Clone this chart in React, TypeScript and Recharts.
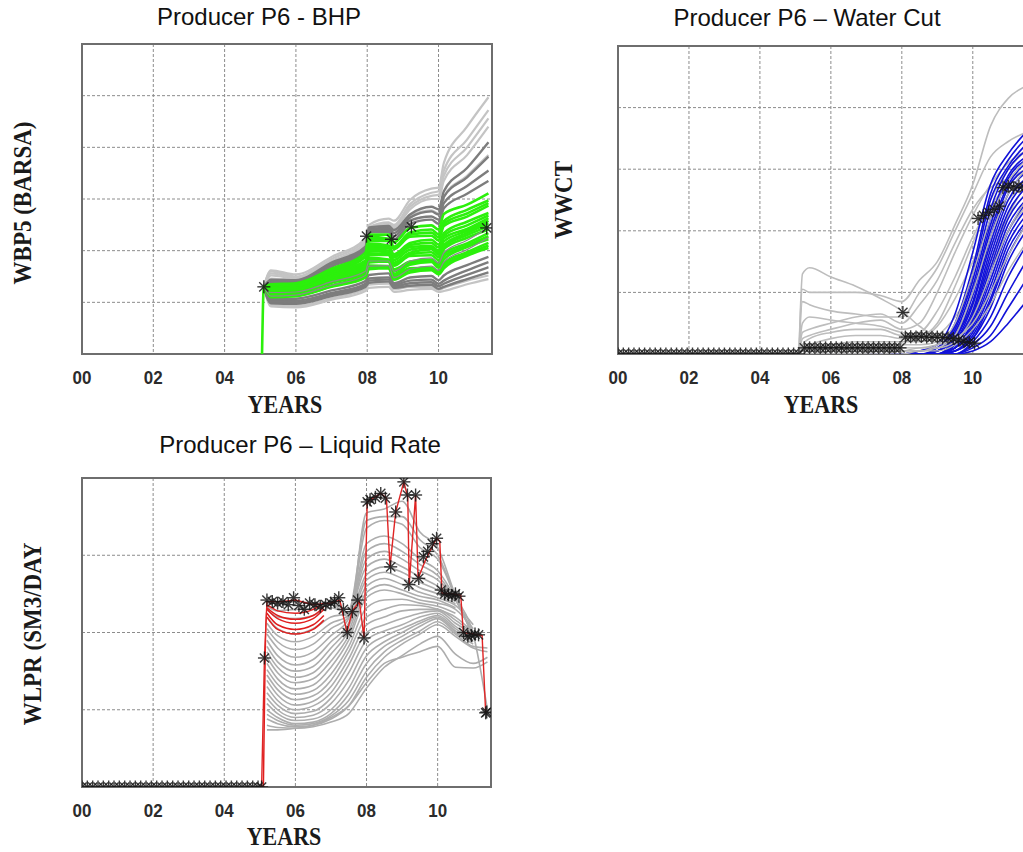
import React from 'react';
import {
    ComposedChart,
    Line,
    Scatter,
    XAxis,
    YAxis,
    CartesianGrid,
    ReferenceArea,
} from 'recharts';

// ---- shared axis data ----
const YEAR_TICKS = [0, 2, 4, 6, 8, 10];
const YEAR_LABELS = ['00', '02', '04', '06', '08', '10'];

// ---- Producer P6 - BHP ----
const BHP_YEARS = [5.05, 5.1, 5.3, 6, 7, 7.95, 8.05, 8.6, 8.75, 9.2, 9.8, 10, 10.15, 10.8, 11.4];
const BHP_LIGHT: (number | null)[][] = [
    [null, 1.3, 0.92, 0.9, 1.05, 1.22, 1.28, 1.3, 1.2, 1.24, 1.26, 1.2, 1.22, 1.35, 1.45],
    [null, 1.3, 0.95, 0.93, 1.08, 1.26, 1.34, 1.36, 1.25, 1.3, 1.3, 1.24, 1.28, 1.42, 1.52],
    [null, 1.3, 1.46, 1.44, 1.74, 2.06, 2.38, 2.44, 2.35, 2.66, 2.78, 2.72, 3.05, 3.45, 3.85],
    [null, 1.3, 1.52, 1.46, 1.78, 2.12, 2.42, 2.5, 2.44, 2.8, 3.0, 3.0, 3.35, 3.85, 4.4],
    [null, 1.3, 1.56, 1.48, 1.8, 2.16, 2.44, 2.52, 2.47, 2.85, 3.06, 3.08, 3.45, 4.0, 4.56],
    [null, 1.3, 1.6, 1.5, 1.84, 2.2, 2.46, 2.55, 2.5, 2.9, 3.12, 3.15, 3.55, 4.15, 4.72],
    [null, 1.3, 1.62, 1.54, 1.88, 2.24, 2.5, 2.62, 2.58, 2.98, 3.2, 3.22, 3.7, 4.4, 4.97],
];
const BHP_DARK: (number | null)[][] = [
    [null, 1.3, 0.98, 0.97, 1.12, 1.3, 1.38, 1.4, 1.28, 1.32, 1.34, 1.26, 1.3, 1.45, 1.58],
    [null, 1.3, 1.0, 1.0, 1.15, 1.33, 1.42, 1.44, 1.31, 1.37, 1.39, 1.31, 1.36, 1.53, 1.68],
    [null, 1.3, 1.02, 1.03, 1.18, 1.36, 1.46, 1.48, 1.34, 1.42, 1.44, 1.36, 1.42, 1.62, 1.78],
    [null, 1.3, 1.06, 1.07, 1.23, 1.41, 1.53, 1.56, 1.37, 1.48, 1.51, 1.43, 1.52, 1.72, 1.88],
    [null, 1.3, 1.38, 1.38, 1.69, 1.99, 2.36, 2.36, 2.22, 2.52, 2.6, 2.52, 2.82, 3.1, 3.35],
    [null, 1.3, 1.4, 1.4, 1.72, 2.02, 2.4, 2.4, 2.28, 2.58, 2.66, 2.6, 2.92, 3.25, 3.55],
    [null, 1.3, 1.42, 1.42, 1.75, 2.05, 2.42, 2.44, 2.34, 2.64, 2.76, 2.7, 3.04, 3.42, 3.82],
    [null, 1.3, 1.44, 1.43, 1.77, 2.08, 2.45, 2.48, 2.4, 2.7, 2.85, 2.8, 3.15, 3.6, 4.1],
];
const BHP_GREEN: (number | null)[][] = [
    [0, 1.3, 1.1, 1.12, 1.3, 1.48, 1.64, 1.66, 1.44, 1.58, 1.62, 1.54, 1.66, 1.9, 2.05],
    [null, 1.3, 1.12, 1.13, 1.31, 1.5, 1.67, 1.68, 1.48, 1.62, 1.64, 1.57, 1.7, 1.93, 2.1],
    [null, 1.3, 1.14, 1.15, 1.33, 1.53, 1.71, 1.7, 1.52, 1.66, 1.67, 1.6, 1.75, 1.97, 2.15],
    [null, 1.3, 1.16, 1.19, 1.38, 1.56, 1.77, 1.79, 1.55, 1.73, 1.78, 1.67, 1.83, 2.07, 2.22],
    [null, 1.3, 1.18, 1.18, 1.39, 1.6, 1.82, 1.81, 1.6, 1.76, 1.8, 1.72, 1.89, 2.1, 2.28],
    [null, 1.3, 1.2, 1.2, 1.41, 1.63, 1.86, 1.83, 1.64, 1.79, 1.83, 1.76, 1.94, 2.14, 2.34],
    [null, 1.3, 1.21, 1.24, 1.44, 1.66, 1.91, 1.92, 1.71, 1.9, 1.91, 1.82, 2.03, 2.25, 2.41],
    [null, 1.3, 1.23, 1.23, 1.47, 1.69, 1.95, 1.94, 1.74, 1.93, 1.97, 1.88, 2.07, 2.3, 2.47],
    [null, 1.3, 1.25, 1.25, 1.5, 1.71, 2.0, 1.96, 1.77, 1.96, 2.03, 1.93, 2.11, 2.34, 2.53],
    [null, 1.3, 1.28, 1.26, 1.48, 1.74, 2.02, 2.0, 1.82, 2.02, 2.06, 1.96, 2.18, 2.38, 2.58],
    [null, 1.3, 1.26, 1.29, 1.51, 1.78, 2.05, 2.05, 1.87, 2.07, 2.09, 2.0, 2.24, 2.42, 2.63],
    [null, 1.3, 1.28, 1.28, 1.54, 1.79, 2.1, 2.07, 1.9, 2.11, 2.15, 2.06, 2.29, 2.49, 2.68],
    [null, 1.3, 1.3, 1.3, 1.57, 1.81, 2.14, 2.1, 1.93, 2.15, 2.21, 2.12, 2.34, 2.56, 2.73],
    [null, 1.3, 1.31, 1.33, 1.58, 1.88, 2.19, 2.19, 2.03, 2.27, 2.29, 2.2, 2.48, 2.66, 2.87],
    [null, 1.3, 1.33, 1.32, 1.61, 1.89, 2.23, 2.21, 2.05, 2.31, 2.35, 2.26, 2.52, 2.72, 2.92],
    [null, 1.3, 1.34, 1.33, 1.63, 1.9, 2.27, 2.23, 2.08, 2.35, 2.41, 2.32, 2.57, 2.79, 2.97],
    [null, 1.3, 1.35, 1.37, 1.65, 1.96, 2.31, 2.31, 2.16, 2.44, 2.49, 2.41, 2.71, 2.89, 3.11],
];
const BHP_DARK_MID: (number | null)[][] = [
    [null, 1.3, 1.19, 1.2, 1.4, 1.6, 1.8, 1.8, 1.6, 1.8, 1.86, 1.76, 1.96, 2.2, 2.45],
    [null, 1.3, 1.12, 1.14, 1.33, 1.52, 1.7, 1.71, 1.48, 1.64, 1.7, 1.62, 1.78, 2.02, 2.25],
];
const BHP_OBS_YEARS = [5.1, 7.98, 8.68, 9.24, 11.35];
const BHP_OBS = [1.3, 2.28, 2.22, 2.46, 2.44];

// ---- Producer P6 – Water Cut ----
const WCT_YEARS = [5.1, 5.2, 5.4, 6, 6.7, 7.4, 8, 8.5, 9, 9.5, 10, 10.5, 11, 11.5];
const WCT_GRAY: (number | null)[][] = [
    [0, 0.26, 0.28, 0.25, 0.22, 0.18, 0.14, 0.09, 0.06, 0.08, 0.15, 0.3, 0.45, 0.55],
    [0, 0.21, 0.2, 0.2, 0.2, 0.19, 0.17, 0.24, 0.3, 0.42, 0.55, 0.74, 0.83, 0.87],
    [0, 0.17, 0.16, 0.14, 0.13, 0.12, 0.12, 0.2, 0.28, 0.4, 0.52, 0.64, 0.69, 0.72],
    [0, 0.1, 0.12, 0.11, 0.1, 0.09, 0.07, 0.06, 0.1, 0.22, 0.36, 0.5, 0.6, 0.66],
    [0, 0.07, 0.08, 0.1, 0.12, 0.13, 0.1, 0.16, 0.24, 0.36, 0.47, 0.54, 0.57, 0.6],
    [0, 0.05, 0.06, 0.08, 0.1, 0.11, 0.08, 0.1, 0.2, 0.33, 0.45, 0.55, 0.62, 0.66],
    [0, 0.03, 0.05, 0.07, 0.08, 0.08, 0.06, 0.07, 0.14, 0.25, 0.38, 0.48, 0.55, 0.6],
    [0, 0.02, 0.03, 0.05, 0.06, 0.06, 0.05, 0.05, 0.09, 0.18, 0.3, 0.42, 0.5, 0.56],
    [0, 0.02, 0.02, 0.03, 0.04, 0.04, 0.04, 0.04, 0.06, 0.12, 0.22, 0.35, 0.45, 0.52],
    [0, 0.01, 0.01, 0.02, 0.03, 0.03, 0.03, 0.03, 0.04, 0.08, 0.16, 0.28, 0.4, 0.48],
];
const WCT_GRAY_LATE: (number | null)[][] = [
    [0, 0, 0, 0.01, 0.02, 0.02, 0.02, 0.02, 0.03, 0.05, 0.1, 0.2, 0.32, 0.42],
    [0, 0, 0, 0, 0.01, 0.01, 0.01, 0.02, 0.02, 0.04, 0.12, 0.26, 0.4, 0.5],
    [0, 0, 0, 0, 0, 0.01, 0.01, 0.01, 0.02, 0.06, 0.2, 0.38, 0.52, 0.6],
    [0, 0, 0, 0, 0, 0, 0.01, 0.01, 0.03, 0.1, 0.26, 0.44, 0.56, 0.63],
    [0, 0, 0, 0, 0, 0, 0, 0.01, 0.01, 0.03, 0.08, 0.16, 0.27, 0.36],
];
const WCT_BLUE: (number | null)[][] = [
    [0, 0, 0, 0, 0, 0, 0, 0.01, 0.03, 0.13, 0.33, 0.55, 0.65, 0.72],
    [0, 0, 0, 0, 0, 0, 0, 0.01, 0.02, 0.1, 0.28, 0.52, 0.63, 0.7],
    [0, 0, 0, 0, 0, 0, 0, 0, 0.02, 0.09, 0.26, 0.5, 0.61, 0.68],
    [0, 0, 0, 0, 0, 0, 0, 0, 0.01, 0.08, 0.24, 0.47, 0.6, 0.66],
    [0, 0, 0, 0, 0, 0, 0, 0, 0.01, 0.07, 0.22, 0.44, 0.58, 0.64],
    [0, 0, 0, 0, 0, 0, 0, 0, 0.01, 0.06, 0.2, 0.42, 0.57, 0.63],
    [0, 0, 0, 0, 0, 0, 0, 0, 0.01, 0.05, 0.19, 0.4, 0.55, 0.62],
    [0, 0, 0, 0, 0, 0, 0, 0, 0, 0.05, 0.17, 0.38, 0.54, 0.6],
    [0, 0, 0, 0, 0, 0, 0, 0, 0, 0.04, 0.16, 0.36, 0.52, 0.59],
    [0, 0, 0, 0, 0, 0, 0, 0, 0, 0.04, 0.14, 0.34, 0.5, 0.57],
    [0, 0, 0, 0, 0, 0, 0, 0, 0, 0.03, 0.13, 0.32, 0.48, 0.56],
    [0, 0, 0, 0, 0, 0, 0, 0, 0, 0.03, 0.12, 0.3, 0.46, 0.54],
    [0, 0, 0, 0, 0, 0, 0, 0, 0, 0.02, 0.11, 0.28, 0.44, 0.52],
    [0, 0, 0, 0, 0, 0, 0, 0, 0, 0.02, 0.1, 0.26, 0.42, 0.5],
    [0, 0, 0, 0, 0, 0, 0, 0, 0, 0.02, 0.09, 0.24, 0.4, 0.49],
    [0, 0, 0, 0, 0, 0, 0, 0, 0, 0.02, 0.08, 0.22, 0.38, 0.47],
    [0, 0, 0, 0, 0, 0, 0, 0, 0, 0.01, 0.07, 0.2, 0.36, 0.45],
    [0, 0, 0, 0, 0, 0, 0, 0, 0, 0.01, 0.06, 0.18, 0.34, 0.43],
    [0, 0, 0, 0, 0, 0, 0, 0, 0, 0.01, 0.05, 0.17, 0.32, 0.42],
    [0, 0, 0, 0, 0, 0, 0, 0, 0, 0.01, 0.05, 0.15, 0.3, 0.4],
    [0, 0, 0, 0, 0, 0, 0, 0, 0, 0, 0.04, 0.12, 0.25, 0.35],
    [0, 0, 0, 0, 0, 0, 0, 0, 0, 0, 0.03, 0.09, 0.2, 0.3],
    [0, 0, 0, 0, 0, 0, 0, 0, 0, 0, 0.02, 0.06, 0.15, 0.24],
    [0, 0, 0, 0, 0, 0, 0, 0, 0, 0, 0.01, 0.04, 0.1, 0.17],
];
const WCT_OBS_YEARS = [
    0, 0.15, 0.3, 0.45, 0.6, 0.75, 0.9, 1.05, 1.2, 1.35, 1.5, 1.65, 1.8, 1.95, 2.1, 2.25, 2.4, 2.55,
    2.7, 2.85, 3, 3.15, 3.3, 3.45, 3.6, 3.75, 3.9, 4.05, 4.2, 4.35, 4.5, 4.65, 4.8, 4.95, 5.1,
    5.25, 5.4, 5.55, 5.7, 5.85, 6, 6.15, 6.3, 6.45, 6.6, 6.75, 6.9, 7.05, 7.2, 7.35, 7.5, 7.65, 7.8, 7.95,
    8.03, 8.1, 8.25, 8.4, 8.55, 8.7, 8.85, 9, 9.15, 9.3, 9.45, 9.6, 9.75, 9.9, 10.05,
    10.15, 10.3, 10.45, 10.6, 10.75, 10.85, 11, 11.15, 11.3, 11.45,
];
const WCT_OBS = [
    0, 0, 0, 0, 0, 0, 0, 0, 0, 0, 0, 0, 0, 0, 0, 0, 0, 0,
    0, 0, 0, 0, 0, 0, 0, 0, 0, 0, 0, 0, 0, 0, 0, 0, 0,
    0.02, 0.02, 0.02, 0.02, 0.02, 0.02, 0.02, 0.02, 0.02, 0.02, 0.02, 0.02, 0.02, 0.02, 0.02, 0.02, 0.02, 0.02, 0.02,
    0.135, 0.055, 0.056, 0.055, 0.057, 0.055, 0.054, 0.055, 0.053, 0.052, 0.05, 0.045, 0.04, 0.038, 0.035,
    0.44, 0.45, 0.46, 0.47, 0.48, 0.54, 0.545, 0.54, 0.545, 0.54,
];

// ---- Producer P6 – Liquid Rate ----
const LR_YEARS = [5.2, 5.5, 6, 6.5, 7, 7.5, 8, 8.5, 9, 9.5, 10, 10.5, 11, 11.4];
const LR_GRAY: (number | null)[][] = [
    [2.38, 2.38, 2.4, 2.38, 2.38, 2.2, 3.55, 3.6, 3.7, 3.3, 3.1, 2.48, 1.98, 1.0],
    [2.34, 2.28, 2.3, 2.3, 2.36, 2.3, 3.45, 3.5, 3.5, 3.2, 3.0, 2.47, 1.97, null],
    [2.3, 2.2, 2.18, 2.22, 2.32, 2.25, 3.35, 3.45, 3.4, 3.1, 2.95, 2.46, 1.96, null],
    [2.2, 2.05, 1.98, 2.05, 2.2, 2.25, 3.15, 3.25, 3.15, 2.95, 2.8, 2.44, 1.95, null],
    [2.12, 1.96, 1.88, 1.95, 2.12, 2.22, 3.05, 3.15, 3.05, 2.88, 2.74, 2.43, null, null],
    [2.05, 1.88, 1.78, 1.85, 2.05, 2.2, 2.95, 3.05, 2.95, 2.8, 2.68, 2.42, 1.94, null],
    [1.98, 1.8, 1.68, 1.75, 1.96, 2.18, 2.85, 2.95, 2.85, 2.72, 2.6, 2.41, null, null],
    [1.9, 1.7, 1.58, 1.65, 1.88, 2.12, 2.75, 2.85, 2.78, 2.65, 2.55, 2.4, null, null],
    [1.82, 1.62, 1.5, 1.56, 1.8, 2.08, 2.68, 2.78, 2.7, 2.58, 2.5, 2.37, null, null],
    [1.75, 1.55, 1.42, 1.48, 1.72, 2.02, 2.6, 2.7, 2.62, 2.52, 2.45, 2.35, 2.1, null],
    [1.68, 1.48, 1.35, 1.4, 1.63, 1.96, 2.52, 2.62, 2.55, 2.47, 2.42, 2.32, null, null],
    [1.6, 1.4, 1.27, 1.32, 1.55, 1.9, 2.45, 2.55, 2.5, 2.42, 2.38, 2.3, 2.05, null],
    [1.52, 1.33, 1.2, 1.25, 1.46, 1.82, 2.32, 2.42, 2.43, 2.38, 2.34, 2.25, null, null],
    [1.45, 1.26, 1.13, 1.18, 1.38, 1.75, 2.2, 2.3, 2.36, 2.35, 2.3, 2.2, 2.0, null],
    [1.38, 1.19, 1.06, 1.11, 1.3, 1.66, 2.1, 2.2, 2.28, 2.3, 2.3, 2.16, 1.99, null],
    [1.3, 1.12, 1.0, 1.05, 1.22, 1.58, 2.0, 2.1, 2.18, 2.25, 2.28, 2.12, 1.98, null],
    [1.22, 1.06, 0.95, 0.98, 1.15, 1.48, 1.9, 2.02, 2.1, 2.2, 2.25, 2.08, 1.94, null],
    [1.15, 1.0, 0.9, 0.93, 1.08, 1.38, 1.8, 1.95, 2.05, 2.15, 2.22, 2.05, 1.9, null],
    [1.08, 0.95, 0.86, 0.88, 1.0, 1.28, 1.7, 1.88, 2.0, 2.12, 2.2, 2.02, 1.88, null],
    [1.0, 0.9, 0.82, 0.84, 0.95, 1.2, 1.6, 1.82, 1.95, 2.08, 2.18, 2.0, 1.85, null],
    [0.94, 0.86, 0.8, 0.82, 0.92, 1.12, 1.5, 1.75, 1.9, 2.02, 2.14, 1.98, 1.82, 1.8],
    [0.88, 0.82, 0.78, 0.8, 0.88, 1.05, 1.42, 1.68, 1.85, 1.98, 2.1, 1.95, 1.8, 1.75],
    [0.8, 0.77, 0.76, 0.78, 0.84, 0.95, 1.28, 1.55, 1.7, 1.85, 1.95, 1.72, 1.6, 1.68],
    [0.74, 0.74, 0.76, 0.8, 0.9, 1.05, 1.35, 1.6, 1.68, 1.75, 1.82, 1.55, 1.54, 1.62],
];
const LR_RED_YEARS = [5.1, 5.2, 5.5, 6, 6.5, 6.8];
const LR_RED: (number | null)[][] = [
    [0, 2.35, 2.28, 2.25, 2.3, 2.38],
    [null, 2.32, 2.22, 2.17, 2.22, 2.33],
    [null, 2.3, 2.18, 2.12, 2.18, 2.3],
    [null, 2.25, 2.1, 2.04, 2.1, 2.22],
    [null, 2.2, 2.04, 1.98, 2.04, 2.16],
];
const LR_HIST_YEARS = [
    5.05, 5.13, 5.2, 5.6, 6.0, 6.5, 7.0, 7.25, 7.45, 7.6, 7.8, 7.93, 8.02, 8.4, 8.56, 8.66, 8.82,
    9.05, 9.16, 9.2, 9.38, 9.45, 9.66, 9.97, 10.06, 10.12, 10.4, 10.65, 10.72, 11.0, 11.25, 11.35,
];
const LR_HIST = [
    0, 1.67, 2.4, 2.4, 2.42, 2.36, 2.38, 2.42, 2.0, 2.28, 2.4, 1.93, 3.69, 3.8, 3.74, 2.85, 3.56,
    3.95, 3.75, 2.62, 3.78, 2.7, 2.94, 3.22, 3.18, 2.51, 2.5, 2.48, 2.0, 1.98, 1.96, 0.96,
];
const LR_OBS_YEARS = [
    0, 0.15, 0.3, 0.45, 0.6, 0.75, 0.9, 1.05, 1.2, 1.35, 1.5, 1.65, 1.8, 1.95, 2.1, 2.25, 2.4, 2.55,
    2.7, 2.85, 3, 3.15, 3.3, 3.45, 3.6, 3.75, 3.9, 4.05, 4.2, 4.35, 4.5, 4.65, 4.8, 4.95, 5.05,
    5.13, 5.2, 5.35, 5.5, 5.65, 5.8, 5.95, 6.1, 6.25, 6.4, 6.55, 6.7, 6.85, 7.0, 7.1, 7.22, 7.35,
    7.46, 7.6, 7.75, 7.93, 8.02, 8.1, 8.25, 8.4, 8.53, 8.68, 8.82, 9.05, 9.15, 9.19, 9.38, 9.47,
    9.6, 9.72, 9.85, 9.97, 10.1, 10.2, 10.3, 10.4, 10.5, 10.6, 10.73, 10.85, 10.95, 11.05, 11.15,
    11.35, 11.38,
];
const LR_OBS = [
    0, 0, 0, 0, 0, 0, 0, 0, 0, 0, 0, 0, 0, 0, 0, 0, 0, 0,
    0, 0, 0, 0, 0, 0, 0, 0, 0, 0, 0, 0, 0, 0, 0, 0, 0,
    1.67, 2.42, 2.4, 2.38, 2.4, 2.36, 2.45, 2.35, 2.3, 2.38, 2.36, 2.34, 2.36, 2.38, 2.4, 2.45, 2.3,
    2.0, 2.27, 2.42, 1.93, 3.69, 3.72, 3.75, 3.8, 3.74, 2.85, 3.56, 3.95, 3.78, 2.62, 3.78, 2.7,
    2.98, 3.05, 3.15, 3.22, 2.55, 2.5, 2.49, 2.48, 2.5, 2.47, 2.0, 1.95, 1.96, 1.98, 1.97,
    0.96, 0.97,
];

// ---- helpers ----
type Pt = { x: number; y: number };
type Series = { pts: Pt[]; color: string; width: number; curve: 'monotone' | 'linear' };

const toPoints = (xs: number[], ys: (number | null)[]): Pt[] =>
    xs.flatMap((x, i) => (ys[i] == null ? [] : [{ x, y: ys[i] as number }]));

const group = (xs: number[], rows: (number | null)[][], color: string, width: number): Series[] =>
    rows.map((r) => ({ pts: toPoints(xs, r), color, width, curve: 'monotone' }));

const SANS = "'Liberation Sans', Arial, sans-serif";
const SERIF = "'Liberation Serif', 'Times New Roman', serif";

const YearTick = (props: any) => {
    const { x, y, payload } = props;
    const label = YEAR_LABELS[YEAR_TICKS.indexOf(payload.value)] ?? '';
    return (
        <text
            transform={`translate(${x}, ${y + 30}) scale(1, 1.12)`}
            textAnchor="middle"
            fontFamily={SANS}
            fontWeight="bold"
            fontSize={17}
            fill="#2b2b2b"
        >
            {label}
        </text>
    );
};

const EmptyTick = () => <g />;

const Asterisk = (props: any) => {
    const { cx, cy } = props;
    if (cx == null || cy == null) return null;
    const r = 6.5;
    const d = r * 0.7071;
    return (
        <g stroke="#161616" strokeWidth={1.4} opacity={0.85}>
            <line x1={cx - r} y1={cy} x2={cx + r} y2={cy} />
            <line x1={cx} y1={cy - r} x2={cx} y2={cy + r} />
            <line x1={cx - d} y1={cy - d} x2={cx + d} y2={cy + d} />
            <line x1={cx - d} y1={cy + d} x2={cx + d} y2={cy - d} />
        </g>
    );
};

type PanelProps = {
    left: number;
    top: number;
    width: number;
    height: number;
    margin: { top: number; right: number; bottom: number; left: number };
    yMax: number;
    yTicks: number[];
    series: Series[];
    stars: Pt[];
};

function EnsemblePanel({ left, top, width, height, margin, yMax, yTicks, series, stars }: PanelProps) {
    return (
        <div style={{ position: 'absolute', left, top }}>
            <ComposedChart width={width} height={height} margin={margin}>
                <CartesianGrid stroke="#8c8c8c" strokeDasharray="3 2" />
                <XAxis
                    dataKey="x"
                    type="number"
                    domain={[0, 11.5]}
                    ticks={YEAR_TICKS}
                    interval={0}
                    allowDataOverflow
                    axisLine={false}
                    tickLine={false}
                    tickSize={0}
                    tickMargin={0}
                    height={30}
                    tick={<YearTick />}
                />
                <YAxis
                    type="number"
                    domain={[0, yMax]}
                    ticks={yTicks}
                    interval={0}
                    allowDataOverflow
                    width={0}
                    axisLine={false}
                    tickLine={false}
                    tick={<EmptyTick />}
                />
                {series.map((s, i) => (
                    <Line
                        key={`s-${i}`}
                        data={s.pts}
                        dataKey="y"
                        type={s.curve}
                        stroke={s.color}
                        strokeWidth={s.width}
                        dot={false}
                        activeDot={false}
                        isAnimationActive={false}
                    />
                ))}
                <Scatter data={stars} dataKey="y" shape={(p: any) => <Asterisk {...p} />} isAnimationActive={false} />
                <ReferenceArea x1={0} x2={11.5} y1={0} y2={yMax} fill="none" stroke="#6e6e6e" strokeWidth={2} ifOverflow="visible" />
            </ComposedChart>
        </div>
    );
}

const titleStyle = (cx: number, cy: number): React.CSSProperties => ({
    position: 'absolute',
    left: cx - 200,
    top: cy - 13,
    width: 400,
    textAlign: 'center',
    fontFamily: SANS,
    fontSize: 24,
    lineHeight: '26px',
    color: '#111',
    whiteSpace: 'nowrap',
});

const axisLabelStyle = (cx: number, cy: number, rotate: boolean): React.CSSProperties => ({
    position: 'absolute',
    left: cx,
    top: cy,
    transform: `translate(-50%, -50%)${rotate ? ' rotate(-90deg)' : ''} scaleY(1.1)`,
    fontFamily: SERIF,
    fontWeight: 'bold',
    fontSize: rotate ? 23 : 22,
    lineHeight: '24px',
    color: '#1a1a1a',
    whiteSpace: 'nowrap',
});

export default function App() {
    const bhpSeries: Series[] = [
        ...group(BHP_YEARS, BHP_LIGHT, '#c4c4c4', 2.2),
        ...group(BHP_YEARS, BHP_DARK, '#7d7d7d', 2.4),
        ...group(BHP_YEARS, BHP_GREEN, '#2cf00c', 2.6),
        ...group(BHP_YEARS, BHP_DARK_MID, '#8a8a8a', 1.2),
    ];
    const wctSeries: Series[] = [
        ...group(WCT_YEARS, WCT_GRAY, '#bdbdbd', 1.6),
        ...group(WCT_YEARS, WCT_BLUE, '#1212d8', 1.6),
        ...group(WCT_YEARS, WCT_GRAY_LATE, '#b5b5b5', 1.4),
    ];
    const lrSeries: Series[] = [
        ...group(LR_YEARS, LR_GRAY, '#adadad', 1.6),
        ...group(LR_RED_YEARS, LR_RED, '#e01e1e', 1.5),
        { pts: toPoints(LR_HIST_YEARS, LR_HIST), color: '#e02424', width: 1.4, curve: 'linear' },
    ];

    return (
        <div style={{ position: 'fixed', left: 0, top: 0, width: 1023, height: 852, overflow: 'hidden', background: '#fff' }}>
            <div style={titleStyle(259, 17)}>Producer P6 - BHP</div>
            <div style={titleStyle(807, 18)}>Producer P6 – Water Cut</div>
            <div style={titleStyle(300, 445)}>Producer P6 – Liquid Rate</div>

            <EnsemblePanel
                left={0}
                top={0}
                width={510}
                height={430}
                margin={{ top: 44, right: 18, bottom: 46, left: 82 }}
                yMax={6}
                yTicks={[0, 1, 2, 3, 4, 5, 6]}
                series={bhpSeries}
                stars={toPoints(BHP_OBS_YEARS, BHP_OBS)}
            />
            <EnsemblePanel
                left={540}
                top={0}
                width={500}
                height={430}
                margin={{ top: 46, right: 14, bottom: 46, left: 78 }}
                yMax={1}
                yTicks={[0, 0.2, 0.4, 0.6, 0.8, 1]}
                series={wctSeries}
                stars={toPoints(WCT_OBS_YEARS, WCT_OBS)}
            />
            <EnsemblePanel
                left={0}
                top={430}
                width={510}
                height={430}
                margin={{ top: 48, right: 19, bottom: 43, left: 82 }}
                yMax={4}
                yTicks={[0, 1, 2, 3, 4]}
                series={lrSeries}
                stars={toPoints(LR_OBS_YEARS, LR_OBS)}
            />

            <div style={axisLabelStyle(23, 203, true)}>WBP5 (BARSA)</div>
            <div style={axisLabelStyle(564, 200, true)}>WWCT</div>
            <div style={axisLabelStyle(33, 634, true)}>WLPR (SM3/DAY</div>
            <div style={axisLabelStyle(285, 405, false)}>YEARS</div>
            <div style={axisLabelStyle(821, 405, false)}>YEARS</div>
            <div style={axisLabelStyle(284, 837, false)}>YEARS</div>
        </div>
    );
}
